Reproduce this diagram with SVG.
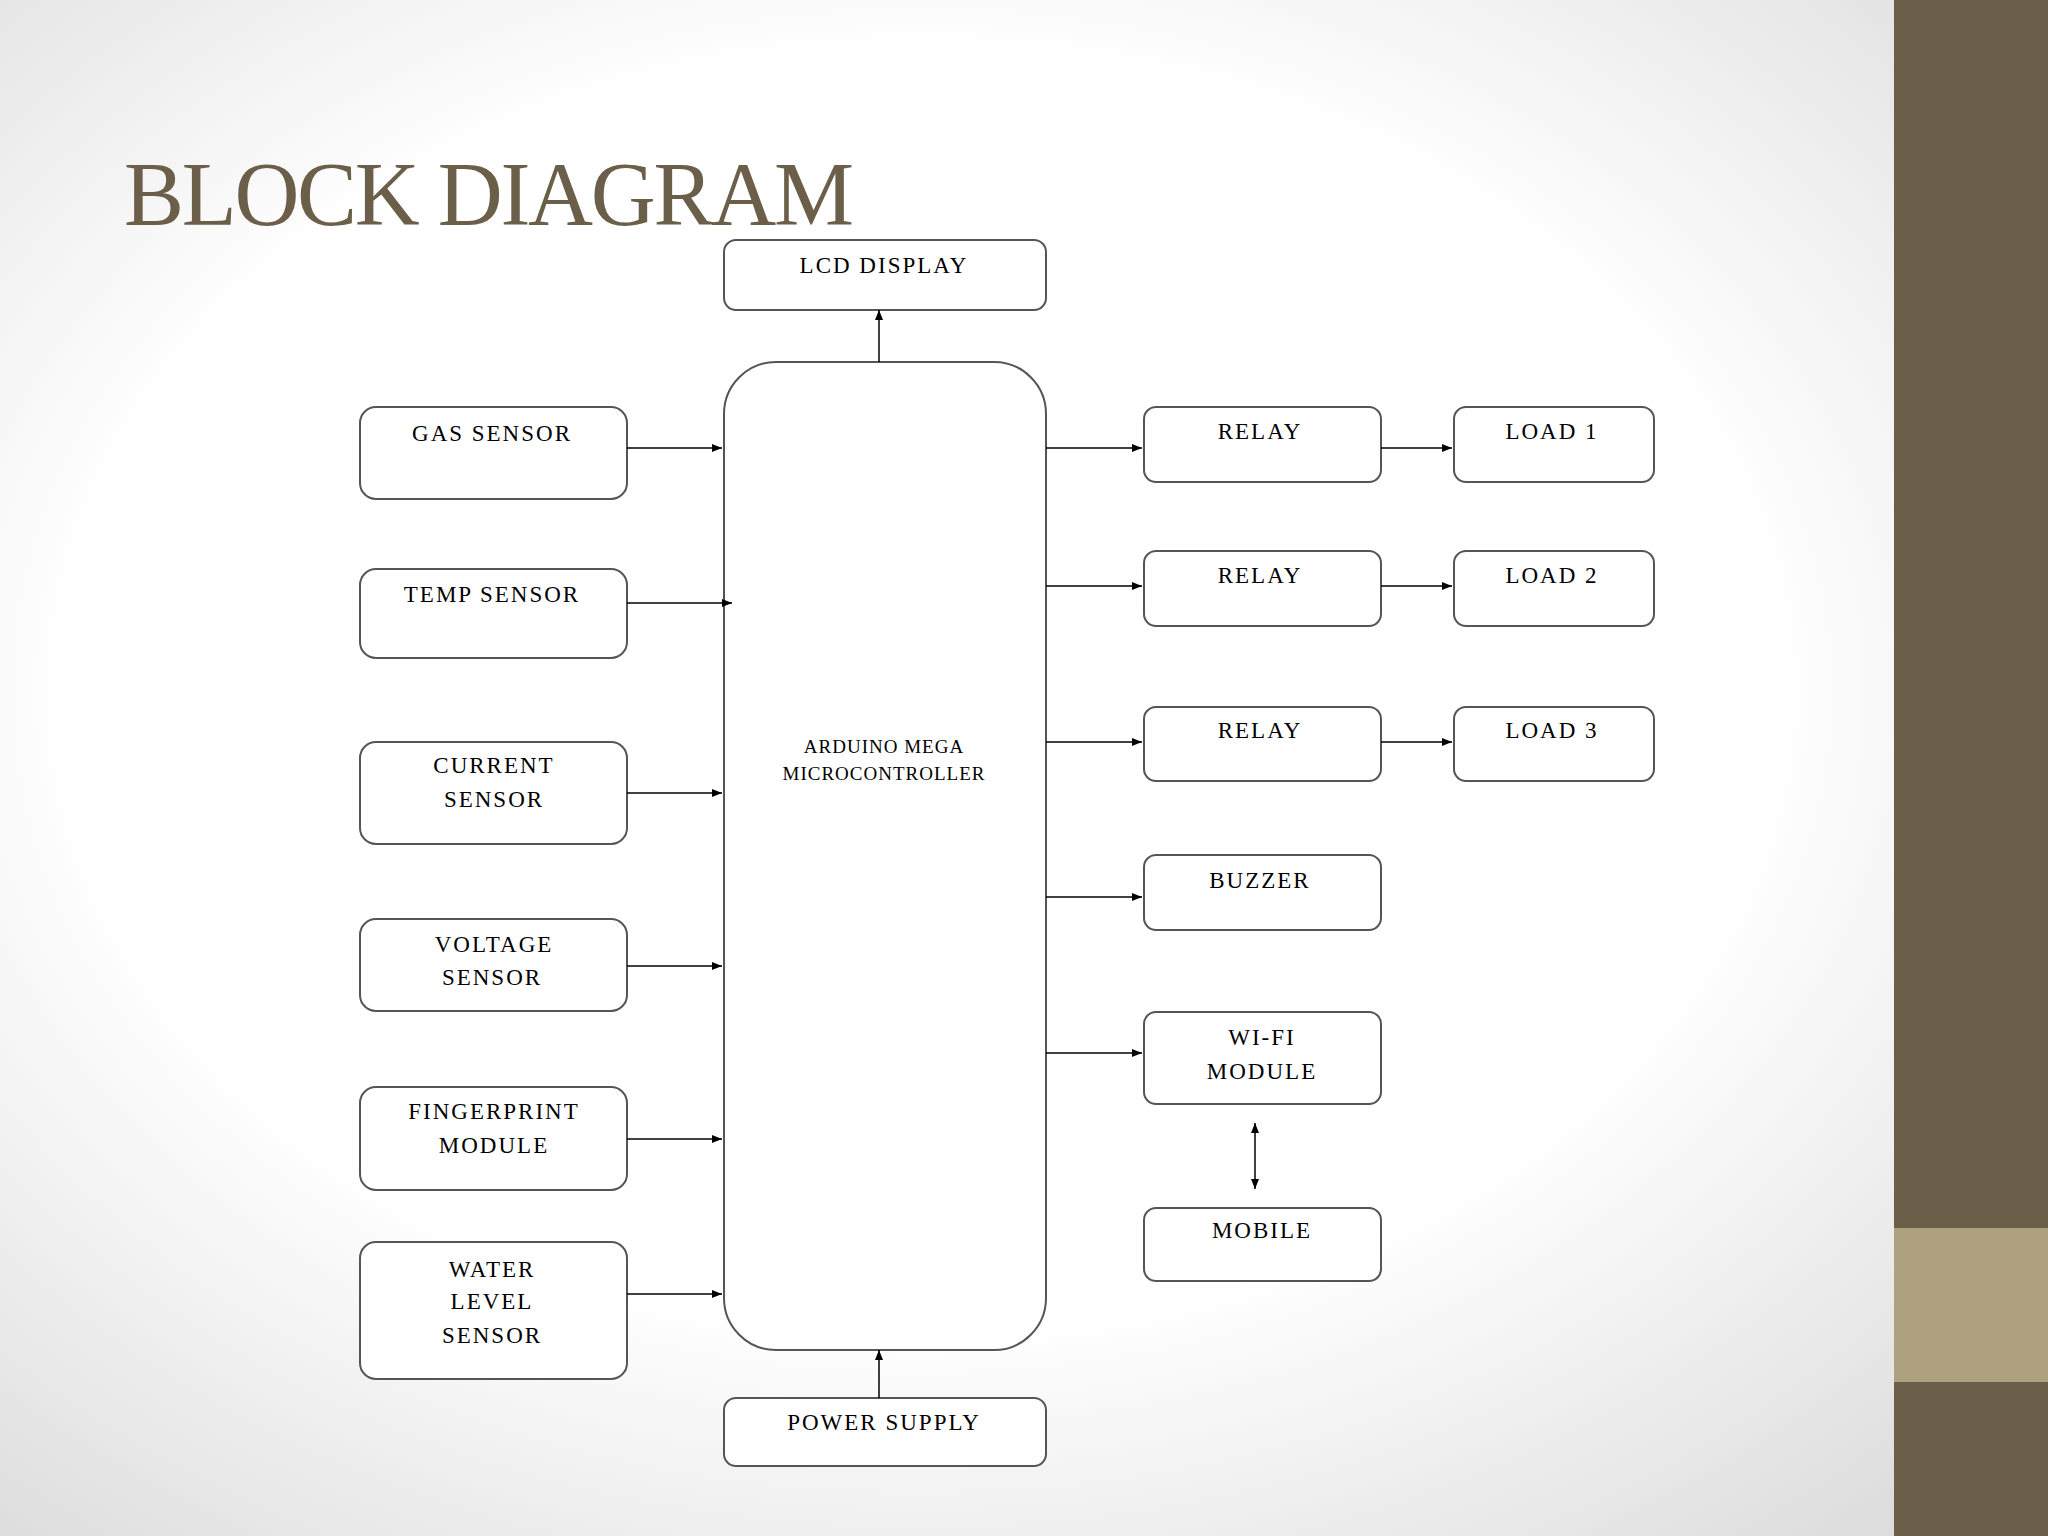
<svg xmlns="http://www.w3.org/2000/svg" width="2048" height="1536" viewBox="0 0 2048 1536">
<defs>
<radialGradient id="bg" cx="45%" cy="45%" r="75%">
<stop offset="0.55" stop-color="#ffffff"/><stop offset="1" stop-color="#d9d9d9"/>
</radialGradient>
<marker id="ah" viewBox="0 0 10 10" refX="10" refY="5" markerWidth="10" markerHeight="10" markerUnits="userSpaceOnUse" orient="auto-start-reverse"><path d="M0,1 L10,5 L0,9 z" fill="#000"/></marker>
</defs>
<style>
.b{fill:#fff;stroke:#555;stroke-width:2}
.t{font-family:"Liberation Serif",serif;font-size:23px;letter-spacing:2px;text-anchor:middle;fill:#000}
.s{font-size:19px;letter-spacing:1px}
.c{stroke:#000;stroke-width:1.5;fill:none;marker-end:url(#ah)}
</style>
<rect width="2048" height="1536" fill="url(#bg)"/>
<rect x="1894" y="0" width="154" height="1536" fill="#6b5f4a"/>
<rect x="1894" y="1228" width="154" height="154" fill="#ada17f"/>
<text x="124" y="225" font-family="Liberation Serif,serif" font-size="90" fill="#6b5f4a" letter-spacing="-2.3">BLOCK DIAGRAM</text>
<g id="lcd"><rect class="b" x="724" y="240" width="322" height="70" rx="12"/><text class="t" x="884" y="273">LCD DISPLAY</text></g>
<g id="arduino"><rect class="b" x="724" y="362" width="322" height="988" rx="52"/><text class="t s" x="884" y="753">ARDUINO MEGA</text><text class="t s" x="884" y="780">MICROCONTROLLER</text></g>
<g id="power"><rect class="b" x="724" y="1398" width="322" height="68" rx="12"/><text class="t" x="884" y="1430">POWER SUPPLY</text></g>
<g id="gas"><rect class="b" x="360" y="407" width="267" height="92" rx="16"/><text class="t" x="492" y="441">GAS SENSOR</text></g>
<g id="temp"><rect class="b" x="360" y="569" width="267" height="89" rx="16"/><text class="t" x="492" y="602">TEMP SENSOR</text></g>
<g id="current"><rect class="b" x="360" y="742" width="267" height="102" rx="16"/><text class="t" x="494" y="773">CURRENT</text><text class="t" x="494" y="807">SENSOR</text></g>
<g id="voltage"><rect class="b" x="360" y="919" width="267" height="92" rx="16"/><text class="t" x="494" y="952">VOLTAGE</text><text class="t" x="492" y="985">SENSOR</text></g>
<g id="finger"><rect class="b" x="360" y="1087" width="267" height="103" rx="16"/><text class="t" x="494" y="1119">FINGERPRINT</text><text class="t" x="494" y="1153">MODULE</text></g>
<g id="water"><rect class="b" x="360" y="1242" width="267" height="137" rx="16"/><text class="t" x="492" y="1277">WATER</text><text class="t" x="492" y="1309">LEVEL</text><text class="t" x="492" y="1343">SENSOR</text></g>
<g id="relay1"><rect class="b" x="1144" y="407" width="237" height="75" rx="12"/><text class="t" x="1260" y="439">RELAY</text></g>
<g id="relay2"><rect class="b" x="1144" y="551" width="237" height="75" rx="12"/><text class="t" x="1260" y="583">RELAY</text></g>
<g id="relay3"><rect class="b" x="1144" y="707" width="237" height="74" rx="12"/><text class="t" x="1260" y="738">RELAY</text></g>
<g id="buzzer"><rect class="b" x="1144" y="855" width="237" height="75" rx="12"/><text class="t" x="1260" y="888">BUZZER</text></g>
<g id="wifi"><rect class="b" x="1144" y="1012" width="237" height="92" rx="12"/><text class="t" x="1262" y="1045">WI-FI</text><text class="t" x="1262" y="1079">MODULE</text></g>
<g id="mobile"><rect class="b" x="1144" y="1208" width="237" height="73" rx="12"/><text class="t" x="1262" y="1238">MOBILE</text></g>
<g id="load1"><rect class="b" x="1454" y="407" width="200" height="75" rx="12"/><text class="t" x="1552" y="439">LOAD 1</text></g>
<g id="load2"><rect class="b" x="1454" y="551" width="200" height="75" rx="12"/><text class="t" x="1552" y="583">LOAD 2</text></g>
<g id="load3"><rect class="b" x="1454" y="707" width="200" height="74" rx="12"/><text class="t" x="1552" y="738">LOAD 3</text></g>
<g id="connectors">
<line class="c" x1="879" y1="362" x2="879" y2="310"/>
<line class="c" x1="879" y1="1398" x2="879" y2="1350"/>
<line class="c" x1="627" y1="448" x2="722" y2="448"/>
<line class="c" x1="627" y1="603" x2="732" y2="603"/>
<line class="c" x1="627" y1="793" x2="722" y2="793"/>
<line class="c" x1="627" y1="966" x2="722" y2="966"/>
<line class="c" x1="627" y1="1139" x2="722" y2="1139"/>
<line class="c" x1="627" y1="1294" x2="722" y2="1294"/>
<line class="c" x1="1046" y1="448" x2="1142" y2="448"/>
<line class="c" x1="1046" y1="586" x2="1142" y2="586"/>
<line class="c" x1="1046" y1="742" x2="1142" y2="742"/>
<line class="c" x1="1046" y1="897" x2="1142" y2="897"/>
<line class="c" x1="1046" y1="1053" x2="1142" y2="1053"/>
<line class="c" x1="1381" y1="448" x2="1452" y2="448"/>
<line class="c" x1="1381" y1="586" x2="1452" y2="586"/>
<line class="c" x1="1381" y1="742" x2="1452" y2="742"/>
<line class="c" x1="1255" y1="1123" x2="1255" y2="1189" marker-start="url(#ah)"/>
</g>
</svg>
